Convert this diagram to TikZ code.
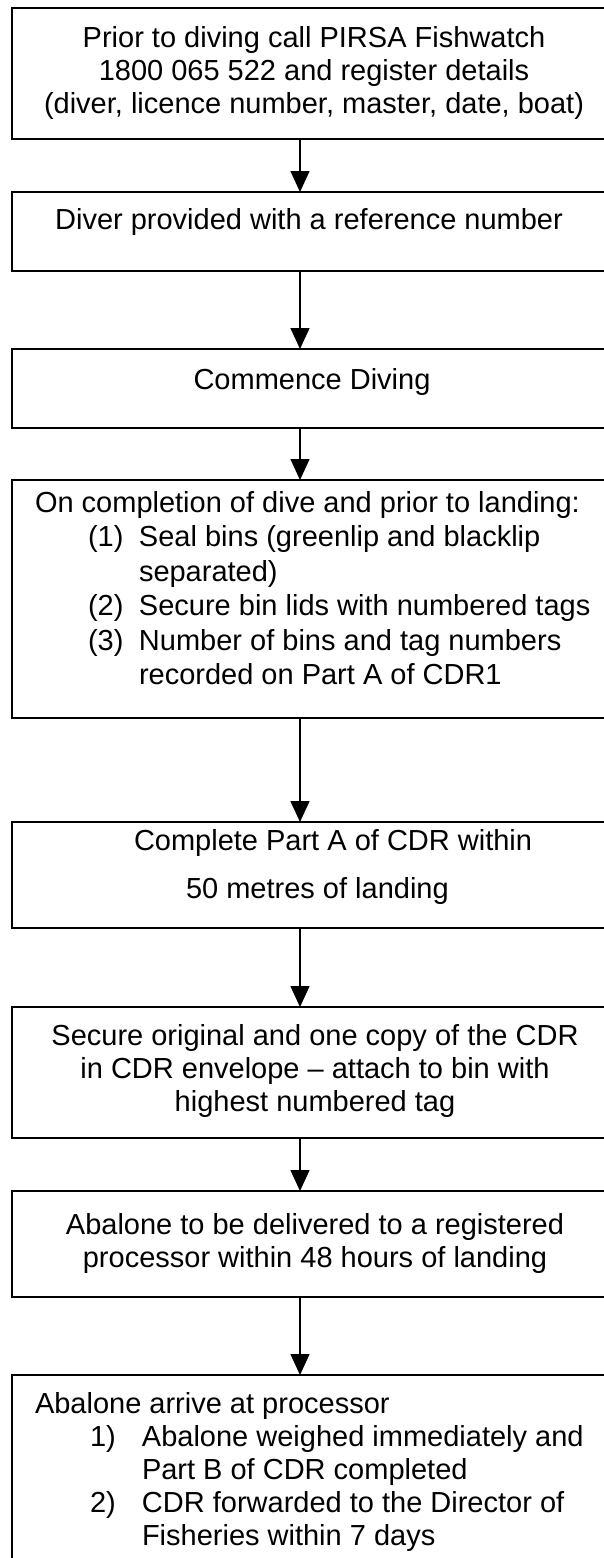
\documentclass[tikz,border=0pt]{standalone}
\usepackage{fontspec}
\setmainfont{Liberation Sans}
\usetikzlibrary{arrows.meta}
\begin{document}
\begin{tikzpicture}[x=1pt,y=-1pt,
  stepbox/.style={draw, line width=1.8pt, rectangle, anchor=north west, minimum width=640pt, inner sep=0pt, outer sep=0pt},
  flow/.style={line width=1.5pt, -{Triangle[length=21pt,width=19pt]}},
  txt/.style={inner sep=0pt, outer sep=0pt, font=\fontsize{29}{33}\selectfont},
  txtwide/.style={inner sep=0pt, outer sep=0pt, font=\fontsize{29}{34.5}\selectfont},
  txtdouble/.style={inner sep=0pt, outer sep=0pt, font=\fontsize{29}{48}\selectfont}
]
\clip (0,0) rectangle (604,1558);
\fill[white] (0,0) rectangle (604,1558);
% boxes
\node[stepbox, minimum height=131pt] (b1) at (12,8) {};
\node[stepbox, minimum height=79pt]  (b2) at (12,192) {};
\node[stepbox, minimum height=79pt]  (b3) at (12,349) {};
\node[stepbox, minimum height=238pt] (b4) at (12,480) {};
\node[stepbox, minimum height=106pt] (b5) at (12,822) {};
\node[stepbox, minimum height=131pt] (b6) at (12,1007) {};
\node[stepbox, minimum height=106pt] (b7) at (12,1191) {};
\node[stepbox, minimum height=240pt] (b8) at (12,1375) {};
% arrows
\coordinate (ax) at (300,0);
\draw[flow] (b1.south -| ax) -- (b2.north -| ax);
\draw[flow] (b2.south -| ax) -- (b3.north -| ax);
\draw[flow] (b3.south -| ax) -- (b4.north -| ax);
\draw[flow] (b4.south -| ax) -- (b5.north -| ax);
\draw[flow] (b5.south -| ax) -- (b6.north -| ax);
\draw[flow] (b6.south -| ax) -- (b7.north -| ax);
\draw[flow] (b7.south -| ax) -- (b8.north -| ax);
% texts
\node[txt, anchor=base] (t1) at (314,47) {\begin{tabular}[t]{@{}c@{}}Prior to diving call PIRSA Fishwatch\\1800 065 522 and register details\\(diver, licence number, master, date, boat)\end{tabular}};
\node[txt, anchor=base] (t2) at (309,229) {Diver provided with a reference number};
\node[txt, anchor=base] (t3) at (312,389) {Commence Diving};
\node[txtwide, anchor=base west] (t4) at (35,512) {\begin{tabular}[t]{@{}l@{}}On completion of dive and prior to landing:\\
\hspace*{53pt}\makebox[51pt][l]{(1)}Seal bins (greenlip and blacklip\\
\hspace*{104pt}separated)\\
\hspace*{53pt}\makebox[51pt][l]{(2)}Secure bin lids with numbered tags\\
\hspace*{53pt}\makebox[51pt][l]{(3)}Number of bins and tag numbers\\
\hspace*{104pt}recorded on Part A of CDR1\end{tabular}};
\node[txtdouble, anchor=base west] (t5) at (134,850) {\begin{tabular}[t]{@{}l@{}}Complete Part A of CDR within\\\hspace*{52pt}50 metres of landing\end{tabular}};
\node[txt, anchor=base] (t6) at (315,1045) {\begin{tabular}[t]{@{}c@{}}Secure original and one copy of the CDR\\in CDR envelope -- attach to bin with\\highest numbered tag\end{tabular}};
\node[txt, anchor=base] (t7) at (315,1234) {\begin{tabular}[t]{@{}c@{}}Abalone to be delivered to a registered\\processor within 48 hours of landing\end{tabular}};
\node[txt, anchor=base west] (t8) at (35,1413) {\begin{tabular}[t]{@{}l@{}}Abalone arrive at processor\\
\hspace*{55pt}\makebox[52pt][l]{1)}Abalone weighed immediately and\\
\hspace*{107pt}Part B of CDR completed\\
\hspace*{55pt}\makebox[52pt][l]{2)}CDR forwarded to the Director of\\
\hspace*{107pt}Fisheries within 7 days\end{tabular}};
\end{tikzpicture}
\end{document}
